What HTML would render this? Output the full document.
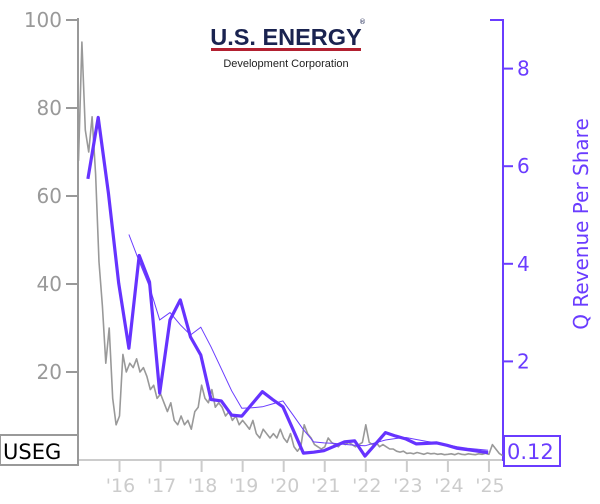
<!DOCTYPE html>
<html><head><meta charset="utf-8"><style>
body{margin:0;background:#fff;width:600px;height:500px;overflow:hidden;font-family:"DejaVu Sans","Liberation Sans",sans-serif}
</style></head><body>
<svg id="c" width="600" height="500" xmlns="http://www.w3.org/2000/svg">
<g>
<text x="286" y="45" text-anchor="middle" font-family="Liberation Sans,sans-serif" font-weight="bold" font-size="23.5" fill="#1a2350">U.S. ENERGY</text>
<text x="359" y="24" font-size="7" fill="#1a2350">®</text>
<rect x="211" y="48" width="150" height="3" fill="#b22030"/>
<text x="286" y="67" text-anchor="middle" font-family="Liberation Sans,sans-serif" font-size="11" fill="#222">Development Corporation</text>
</g>
</svg>
<script>
const priceStart=2015.0, priceStep=1/12;
const price=[68,95,75,70,78,65,45,35,22,30,14,8,
10,24,20,22,21,23,20,21,19,16,17,14,
15,13,11,13,9,8,10,8,9,7,11,12,
17,14,13,16,12,13,12,10,11,9,10,8,
9,8,7,9,6,5,7,6,5,6,5,7,
5,4,6,3,2,3,8,6,5,3.5,3,2.5,
3,5,4,3.5,3,4,3.5,4,3.5,3,3.5,4,
8,4,3.5,4,3,3.5,3,2.5,2.5,2,1.8,2,
1.5,1.6,1.4,1.7,1.5,1.3,1.6,1.4,1.5,1.3,1.4,1.2,
1.3,1.4,1.2,1.5,1.3,1.2,1.4,1.3,1.2,1.4,1.3,1.5,
1.3,3.5,2.5,1.5,1];
const revStart=2015.23, revStep=0.25;
const revenue=[5.74,7.0,5.45,3.6,2.27,4.17,3.63,1.35,2.85,3.26,2.5,2.13,1.22,1.19,0.9,0.88,1.13,1.38,1.22,1.07,0.6,0.12,0.14,0.17,0.26,0.35,0.37,0.06,0.3,0.54,0.47,0.41,0.31,0.32,0.33,0.28,0.22,0.19,0.16,0.13];
const ttmStartIndex=4;
const ttm=[4.6,4.05,3.53,2.85,3.0,2.75,2.54,2.7,2.3,1.85,1.4,1.04,1.05,1.07,1.13,1.19,0.9,0.6,0.35,0.33,0.32,0.3,0.28,0.27,0.33,0.39,0.42,0.44,0.4,0.36,0.33,0.29,0.25,0.22,0.2,0.18];
const leftTicks=[20,40,60,80,100];
const rightTicks=[2,4,6,8];
const yearTicks=[2016,2017,2018,2019,2020,2021,2022,2023,2024,2025];
const yearLabels=["'16","'17","'18","'19","'20","'21","'22","'23","'24","'25"];
const lastValue="0.12", ticker="USEG";

const X=t=>119.5+(t-2016)*41.05;
const YL=v=>460-v*4.4;
const YR=v=>459-v*48.8;
const svg=document.getElementById('c');
const NS="http://www.w3.org/2000/svg";
function mk(tag,attrs,parent){const e=document.createElementNS(NS,tag);for(const k in attrs)e.setAttribute(k,attrs[k]);(parent||svg).appendChild(e);return e;}

let a=mk('line',{x1:78,y1:18,x2:78,y2:461,stroke:'#999','stroke-width':2});


a=mk('line',{x1:78,y1:460,x2:503,y2:460,stroke:'#ccc','stroke-width':2});


a=mk('line',{x1:503,y1:19,x2:503,y2:461,stroke:'#6a3cff','stroke-width':2});


mk('line',{x1:490,y1:20,x2:503,y2:20,stroke:'#6a3cff','stroke-width':2});
mk('line',{x1:66,y1:20,x2:78,y2:20,stroke:'#999','stroke-width':2});
let t=mk('text',{x:62,y:27,'text-anchor':'end','font-size':20,fill:'#999'});t.textContent='100';


leftTicks.slice(0,4).forEach(v=>{
 mk('line',{x1:66,y1:YL(v),x2:78,y2:YL(v),stroke:'#999','stroke-width':2});
 const e=mk('text',{x:62,y:YL(v)+7,'text-anchor':'end','font-size':20,fill:'#999'});e.textContent=v;
 
 
});
rightTicks.forEach(v=>{
 mk('line',{x1:503,y1:YR(v),x2:513,y2:YR(v),stroke:'#6a3cff','stroke-width':2});
 const e=mk('text',{x:517,y:YR(v)+7,'font-size':20,fill:'#6a3cff'});e.textContent=v;
 
 
});
yearTicks.forEach((y,i)=>{
 mk('line',{x1:X(y),y1:460,x2:X(y),y2:472,stroke:'#ccc','stroke-width':2});
 const e=mk('text',{x:X(y)+1,y:492,'text-anchor':'middle','font-size':19,fill:'#ccc'});e.textContent=yearLabels[i];
 
 
});
t=mk('text',{x:0,y:0,'font-size':20,fill:'#6a3cff','text-anchor':'middle',transform:'translate(588,224) rotate(-90)'});
t.textContent='Q Revenue Per Share';



let d=price.map((v,i)=>(i?'L':'M')+X(priceStart+i*priceStep).toFixed(1)+','+YL(v).toFixed(1)).join('');
let p=mk('path',{d:d,fill:'none',stroke:'#999','stroke-width':1.6,'stroke-linejoin':'round'});


d=ttm.map((v,i)=>(i?'L':'M')+X(revStart+(i+ttmStartIndex)*revStep).toFixed(1)+','+YR(v).toFixed(1)).join('');
p=mk('path',{d:d,fill:'none',stroke:'#6a3cff','stroke-width':1});


d=revenue.map((v,i)=>(i?'L':'M')+X(revStart+i*revStep).toFixed(1)+','+YR(v).toFixed(1)).join('');
p=mk('path',{d:d,fill:'none',stroke:'#6633ff','stroke-width':3.2,'stroke-linejoin':'round'});



mk('rect',{x:0,y:435,width:78,height:30,fill:'#fff',stroke:'#999','stroke-width':2});
t=mk('text',{x:3,y:459,'font-size':21,fill:'#000'});t.textContent=ticker;


mk('rect',{x:504,y:436,width:56,height:30,fill:'#fff',stroke:'#6a3cff','stroke-width':2});
t=mk('text',{x:507,y:459,'font-size':21,fill:'#6a3cff'});t.textContent=lastValue;


</script>
</body></html>
